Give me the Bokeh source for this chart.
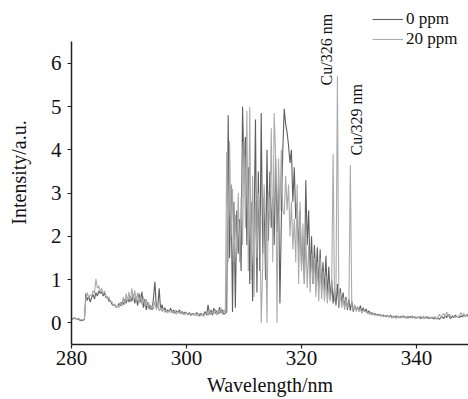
import numpy as np
from bokeh.plotting import figure
from bokeh.models import Range1d, Legend, LegendItem, Label, FixedTicker
from bokeh.embed import file_html
from bokeh.resources import INLINE

# wavelength grid (nm), 0.25 nm spacing
wavelength = [round(280 + 0.25 * i, 2) for i in range(277)]

ppm0 = [
    0.08, 0.10, 0.11, 0.09, 0.10, 0.08, 0.06, 0.05, 0.06, 0.08,
    0.68, 0.52, 0.62, 0.48, 0.58, 0.66, 0.55, 0.70, 0.62, 0.74,
    0.68, 0.72, 0.62, 0.70, 0.58, 0.60, 0.50, 0.52, 0.44, 0.40,
    0.42, 0.36, 0.38, 0.45, 0.40, 0.48, 0.42, 0.55, 0.45, 0.58,
    0.48, 0.62, 0.50, 0.66, 0.45, 0.60, 0.40, 0.68, 0.48, 0.72,
    0.35, 0.55, 0.30, 0.48, 0.32, 0.40, 0.30, 0.55, 0.95, 0.40,
    0.35, 0.80, 0.30, 0.42, 0.28, 0.35, 0.25, 0.30, 0.26, 0.34,
    0.24, 0.30, 0.22, 0.28, 0.24, 0.30, 0.22, 0.26, 0.20, 0.25,
    0.22, 0.20, 0.24, 0.18, 0.22, 0.20, 0.18, 0.24, 0.20, 0.16,
    0.22, 0.18, 0.20, 0.26, 0.18, 0.42, 0.20, 0.30, 0.18, 0.34,
    0.22, 0.28, 0.20, 0.36, 0.22, 0.30, 0.20, 0.22, 0.25, 4.80,
    1.50, 3.20, 0.25, 2.80, 0.35, 2.60, 1.60, 2.40, 1.20, 5.00,
    3.60, 4.30, 1.80, 3.60, 0.90, 2.80, 0.50, 2.20, 4.70, 0.70,
    3.50, 1.20, 4.85, 1.60, 2.90, 1.00, 4.00, 1.90, 3.50, 2.20,
    2.90, 1.80, 3.80, 2.10, 3.20, 0.45, 2.40, 4.00, 4.95, 4.60,
    4.40, 4.10, 3.70, 4.00, 2.80, 3.60, 2.40, 2.80, 1.60, 2.60,
    1.30, 2.00, 0.90, 3.30, 1.80, 2.60, 1.10, 2.00, 0.90, 1.80,
    0.95, 1.75, 0.80, 1.70, 0.75, 1.40, 0.70, 1.55, 0.60, 1.30,
    0.55, 1.00, 0.45, 0.80, 0.40, 0.90, 0.35, 0.80, 0.45, 0.70,
    0.35, 0.60, 0.30, 0.55, 0.28, 0.50, 0.26, 0.40, 0.30, 0.36,
    0.28, 0.40, 0.25, 0.35, 0.26, 0.32, 0.22, 0.28, 0.20, 0.24,
    0.20, 0.22, 0.18, 0.20, 0.17, 0.19, 0.16, 0.18, 0.15, 0.17,
    0.16, 0.14, 0.18, 0.13, 0.15, 0.12, 0.16, 0.14, 0.12, 0.15,
    0.13, 0.16, 0.12, 0.14, 0.11, 0.13, 0.15, 0.12, 0.14, 0.11,
    0.13, 0.12, 0.14, 0.10, 0.13, 0.11, 0.12, 0.14, 0.10, 0.12,
    0.11, 0.13, 0.09, 0.12, 0.10, 0.11, 0.08, 0.12, 0.14, 0.10,
    0.18, 0.12, 0.20, 0.14, 0.10, 0.16, 0.12, 0.18, 0.14, 0.15,
    0.12, 0.16, 0.14, 0.18, 0.15, 0.17, 0.16,
]

ppm20 = [
    0.10, 0.08, 0.12, 0.10, 0.09, 0.11, 0.07, 0.08, 0.06, 0.10,
    0.55, 0.70, 0.58, 0.65, 0.60, 0.75, 0.68, 1.02, 0.80, 0.86,
    0.72, 0.80, 0.66, 0.74, 0.62, 0.56, 0.60, 0.48, 0.50, 0.40,
    0.44, 0.36, 0.40, 0.35, 0.48, 0.38, 0.60, 0.42, 0.68, 0.50,
    0.72, 0.48, 0.80, 0.55, 0.75, 0.50, 0.70, 0.45, 0.65, 0.42,
    0.60, 0.38, 0.55, 0.35, 0.45, 0.30, 0.40, 0.32, 0.50, 0.30,
    0.42, 0.28, 0.35, 0.26, 0.32, 0.24, 0.30, 0.22, 0.30, 0.24,
    0.28, 0.22, 0.30, 0.20, 0.26, 0.22, 0.28, 0.20, 0.24, 0.18,
    0.24, 0.18, 0.22, 0.16, 0.20, 0.18, 0.22, 0.16, 0.18, 0.22,
    0.16, 0.20, 0.15, 0.20, 0.24, 0.17, 0.30, 0.18, 0.26, 0.20,
    0.32, 0.18, 0.28, 0.22, 0.35, 0.20, 0.30, 0.22, 3.95, 1.40,
    4.20, 2.00, 3.10, 1.40, 2.50, 1.60, 3.00, 1.40, 2.90, 1.80,
    4.20, 2.20, 4.90, 1.20, 5.00, 1.00, 3.40, 0.60, 2.80, 1.50,
    3.00, 2.40, 0.00, 1.30, 3.20, 2.20, 0.00, 3.00, 2.40, 4.50,
    1.40, 4.85, 3.90, 0.00, 3.80, 2.60, 4.00, 2.60, 2.50, 3.40,
    2.60, 3.20, 2.00, 2.80, 1.70, 2.40, 1.40, 3.20, 0.90, 2.80,
    1.20, 2.30, 0.90, 2.00, 0.80, 1.80, 0.70, 1.60, 0.90, 1.50,
    0.60, 1.40, 0.50, 1.50, 0.55, 1.20, 0.50, 1.10, 0.45, 0.90,
    0.50, 0.80, 3.90, 0.50, 0.70, 5.70, 0.40, 0.70, 0.35, 0.60,
    0.30, 0.55, 0.35, 0.45, 3.65, 0.40, 0.30, 0.42, 0.26, 0.38,
    0.25, 0.34, 0.22, 0.30, 0.28, 0.24, 0.26, 0.20, 0.24, 0.18,
    0.22, 0.17, 0.20, 0.16, 0.19, 0.15, 0.18, 0.14, 0.17, 0.13,
    0.18, 0.12, 0.16, 0.10, 0.17, 0.13, 0.10, 0.16, 0.14, 0.11,
    0.17, 0.12, 0.15, 0.10, 0.16, 0.14, 0.11, 0.17, 0.12, 0.15,
    0.10, 0.14, 0.11, 0.15, 0.12, 0.16, 0.10, 0.13, 0.15, 0.09,
    0.14, 0.10, 0.13, 0.15, 0.08, 0.14, 0.20, 0.11, 0.18, 0.22,
    0.14, 0.25, 0.16, 0.20, 0.13, 0.17, 0.15, 0.12, 0.16, 0.13,
    0.18, 0.24, 0.16, 0.22, 0.14, 0.20, 0.18,
]

series_names = ["0 ppm", "20 ppm"]
x_ticks = [280, 300, 320, 340]
y_ticks = [0, 1, 2, 3, 4, 5, 6]
peak_labels = ["Cu/326 nm", "Cu/329 nm"]
peak_label_x = [324.35, 329.57]
peak_label_y = [5.49, 3.87]

FONT = "Liberation Serif"
DARK = "#5e5e5e"
LIGHT = "#ababab"

p = figure(width=468, height=399, output_backend="svg", toolbar_location=None,
           x_range=Range1d(280, 349.05), y_range=Range1d(-0.5, 7.454),
           min_border_left=71, min_border_right=0, min_border_top=0,
           min_border_bottom=55)
p.outline_line_color = None
p.xgrid.visible = False
p.ygrid.visible = False
p.background_fill_color = "white"
p.border_fill_color = "white"

r0 = p.line(wavelength, ppm0, line_color=DARK, line_width=1.1)
r1 = p.line(wavelength, ppm20, line_color=LIGHT, line_width=1.1)

for ax in (p.xaxis[0], p.yaxis[0]):
    ax.axis_line_color = "#222222"
    ax.axis_line_width = 1.5
    ax.major_tick_line_color = "#222222"
    ax.major_tick_line_width = 1.2
    ax.major_tick_out = 4
    ax.major_tick_in = 0
    ax.minor_tick_line_color = None
    ax.major_label_text_font = FONT
    ax.major_label_text_font_size = "21px"
    ax.major_label_text_color = "#111111"
    ax.axis_label_text_font = FONT
    ax.axis_label_text_font_size = "20px"
    ax.axis_label_text_font_style = "normal"
    ax.axis_label_text_color = "#111111"

p.xaxis.ticker = FixedTicker(ticks=x_ticks)
p.yaxis.ticker = FixedTicker(ticks=y_ticks)
p.yaxis.bounds = (-0.5, 6.5)
p.xaxis.axis_label = "Wavelength/nm"
p.yaxis.axis_label = "Intensity/a.u."
p.xaxis.major_label_standoff = 2
p.yaxis.major_label_standoff = 6
p.xaxis.axis_label_standoff = 6
p.yaxis.axis_label_standoff = 18

for txt, lx, ly in zip(peak_labels, peak_label_x, peak_label_y):
    p.add_layout(Label(x=lx, y=ly, text=txt, angle=np.pi / 2,
                       text_align="left", text_baseline="middle",
                       text_font=FONT, text_font_size="16px",
                       text_color="#111111"))

legend = Legend(items=[LegendItem(label=series_names[0], renderers=[r0]),
                       LegendItem(label=series_names[1], renderers=[r1])],
                location=(301, 295), glyph_width=31, glyph_height=18,
                label_height=18, spacing=0, padding=0, margin=0,
                label_standoff=3, border_line_color=None,
                background_fill_alpha=0, label_text_font=FONT,
                label_text_font_size="17px", label_text_color="#111111")
p.add_layout(legend)

open("out.html", "w").write(file_html(p, INLINE))
